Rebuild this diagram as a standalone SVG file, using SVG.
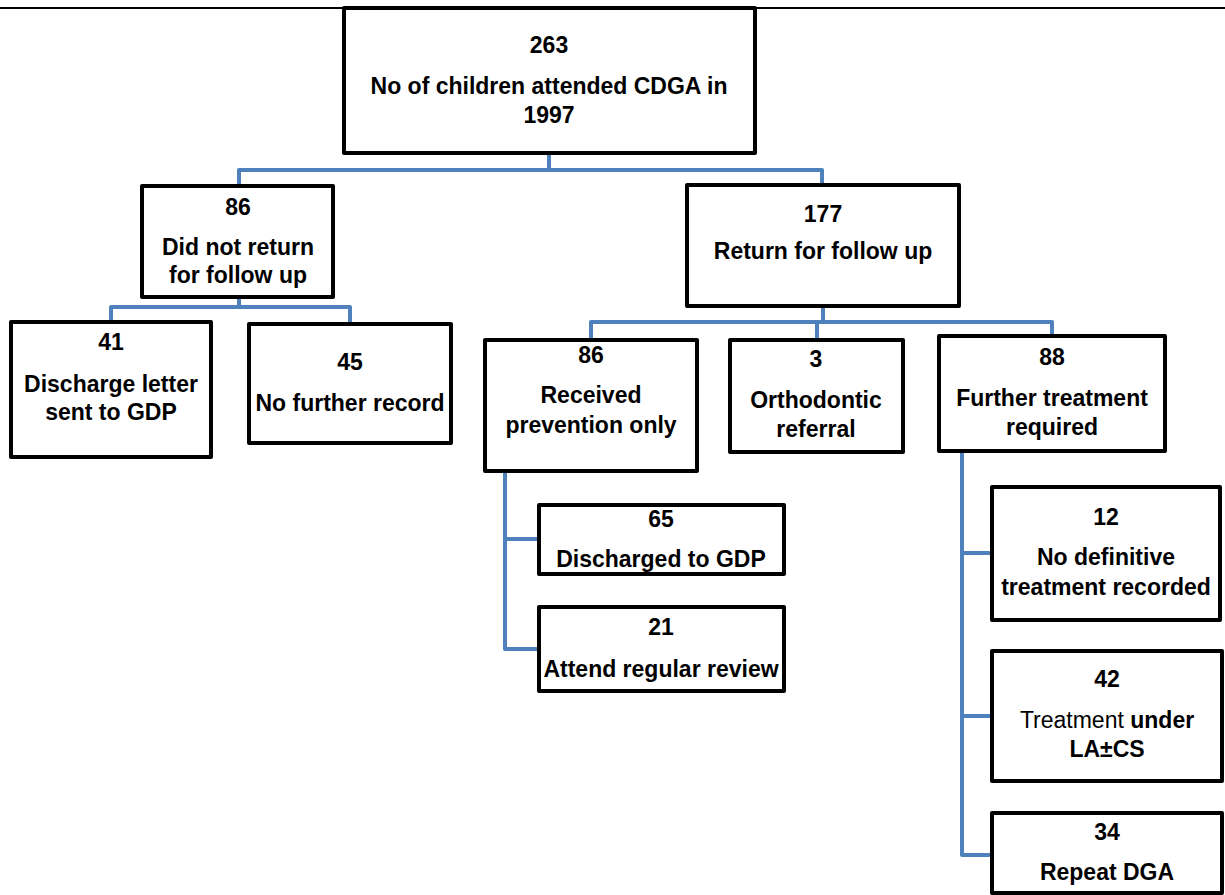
<svg xmlns="http://www.w3.org/2000/svg" width="1225" height="895" viewBox="0 0 1225 895">
<style>
.box{fill:#fff;stroke:#000;stroke-width:4;stroke-linejoin:round}
.c{fill:none;stroke:#4F81BD;stroke-width:4;stroke-linejoin:round}
text{font-family:"Liberation Sans",Arial,sans-serif;font-size:23px;font-weight:bold;text-anchor:middle;fill:#000}
.n{font-weight:normal}
</style>
<rect width="1225" height="895" fill="#fff"/>
<line x1="0" y1="8" x2="1225" y2="8" stroke="#000" stroke-width="2"/>
<g id="connectors">
<path class="c" d="M549 153V170M239 186V170H822V185"/>
<path class="c" d="M239 298V307M111 322V307H350V324"/>
<path class="c" d="M823 307V322M591 340V322H1052V336M817 322V340"/>
<path class="c" d="M505 471V649H539M505 539H539"/>
<path class="c" d="M962 451V855H992M962 553H992M962 716H992"/>
</g>
<g id="root"><rect class="box" x="344" y="8" width="411" height="145"/>
<text x="549" y="53">263</text><text x="549" y="94">No of children attended CDGA in</text><text x="549" y="123">1997</text></g>
<g id="n86a"><rect class="box" x="142" y="186" width="191" height="111"/>
<text x="238" y="215">86</text><text x="238" y="255">Did not return</text><text x="238" y="283">for follow up</text></g>
<g id="n177"><rect class="box" x="687" y="185" width="272" height="121"/>
<text x="823" y="222">177</text><text x="823" y="259">Return for follow up</text></g>
<g id="n41"><rect class="box" x="11" y="322" width="200" height="135"/>
<text x="111" y="350">41</text><text x="111" y="392">Discharge letter</text><text x="111" y="420">sent to GDP</text></g>
<g id="n45"><rect class="box" x="249" y="324" width="202" height="119"/>
<text x="350" y="370">45</text><text x="350" y="411">No further record</text></g>
<g id="n86b"><rect class="box" x="485" y="340" width="212" height="131"/>
<text x="591" y="363">86</text><text x="591" y="403">Received</text><text x="591" y="433">prevention only</text></g>
<g id="n3"><rect class="box" x="730" y="340" width="173" height="112"/>
<text x="816" y="367">3</text><text x="816" y="408">Orthodontic</text><text x="816" y="437">referral</text></g>
<g id="n88"><rect class="box" x="939" y="336" width="226" height="115"/>
<text x="1052" y="365">88</text><text x="1052" y="406">Further treatment</text><text x="1052" y="435">required</text></g>
<g id="n65"><rect class="box" x="539" y="505" width="245" height="69"/>
<text x="661" y="527">65</text><text x="661" y="567">Discharged to GDP</text></g>
<g id="n21"><rect class="box" x="539" y="607" width="245" height="84"/>
<text x="661" y="635">21</text><text x="661" y="677">Attend regular review</text></g>
<g id="n12"><rect class="box" x="992" y="487" width="228" height="133"/>
<text x="1106" y="525">12</text><text x="1106" y="565">No definitive</text><text x="1106" y="595">treatment recorded</text></g>
<g id="n42"><rect class="box" x="992" y="651" width="230" height="130"/>
<text x="1107" y="687">42</text><text x="1107" y="728"><tspan class="n">Treatment </tspan>under</text><text x="1107" y="757">LA±CS</text></g>
<g id="n34"><rect class="box" x="992" y="813" width="230" height="80"/>
<text x="1107" y="840">34</text><text x="1107" y="880">Repeat DGA</text></g>
</svg>
